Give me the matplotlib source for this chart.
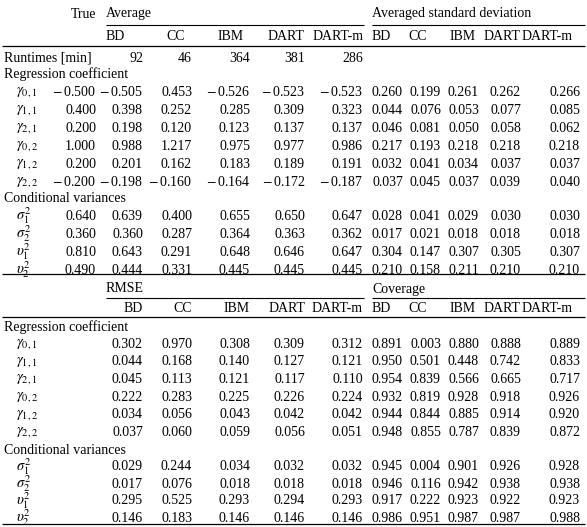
import matplotlib
matplotlib.use("Agg")
import matplotlib.pyplot as plt

plt.rcParams['font.family'] = ['Liberation Serif', 'DejaVu Serif']
plt.rcParams['mathtext.fontset'] = 'stix'

methods = ["BD", "CC", "IBM", "DART", "DART-m"]
runtimes = ["92", "46", "364", "381", "286"]
reg_labels = [r"$\gamma_{0,1}$", r"$\gamma_{1,1}$", r"$\gamma_{2,1}$", r"$\gamma_{0,2}$", r"$\gamma_{1,2}$", r"$\gamma_{2,2}$"]
var_labels = [r"$\sigma_1^2$", r"$\sigma_2^2$", r"$\upsilon_1^2$", r"$\upsilon_2^2$"]
true_reg = [-0.500, 0.400, 0.200, 1.000, 0.200, -0.200]
true_var = [0.640, 0.360, 0.810, 0.490]
avg_reg = [[-0.505, 0.453, -0.526, -0.523, -0.523],
           [0.398, 0.252, 0.285, 0.309, 0.323],
           [0.198, 0.120, 0.123, 0.137, 0.137],
           [0.988, 1.217, 0.975, 0.977, 0.986],
           [0.201, 0.162, 0.183, 0.189, 0.191],
           [-0.198, -0.160, -0.164, -0.172, -0.187]]
sd_reg = [[0.260, 0.199, 0.261, 0.262, 0.266],
          [0.044, 0.076, 0.053, 0.077, 0.085],
          [0.046, 0.081, 0.050, 0.058, 0.062],
          [0.217, 0.193, 0.218, 0.218, 0.218],
          [0.032, 0.041, 0.034, 0.037, 0.037],
          [0.037, 0.045, 0.037, 0.039, 0.040]]
avg_var = [[0.639, 0.400, 0.655, 0.650, 0.647],
           [0.360, 0.287, 0.364, 0.363, 0.362],
           [0.643, 0.291, 0.648, 0.646, 0.647],
           [0.444, 0.331, 0.445, 0.445, 0.445]]
sd_var = [[0.028, 0.041, 0.029, 0.030, 0.030],
          [0.017, 0.021, 0.018, 0.018, 0.018],
          [0.304, 0.147, 0.307, 0.305, 0.307],
          [0.210, 0.158, 0.211, 0.210, 0.210]]
rmse_reg = [[0.302, 0.970, 0.308, 0.309, 0.312],
            [0.044, 0.168, 0.140, 0.127, 0.121],
            [0.045, 0.113, 0.121, 0.117, 0.110],
            [0.222, 0.283, 0.225, 0.226, 0.224],
            [0.034, 0.056, 0.043, 0.042, 0.042],
            [0.037, 0.060, 0.059, 0.056, 0.051]]
cov_reg = [[0.891, 0.003, 0.880, 0.888, 0.889],
           [0.950, 0.501, 0.448, 0.742, 0.833],
           [0.954, 0.839, 0.566, 0.665, 0.717],
           [0.932, 0.819, 0.928, 0.918, 0.926],
           [0.944, 0.844, 0.885, 0.914, 0.920],
           [0.948, 0.855, 0.787, 0.839, 0.872]]
rmse_var = [[0.029, 0.244, 0.034, 0.032, 0.032],
            [0.017, 0.076, 0.018, 0.018, 0.018],
            [0.295, 0.525, 0.293, 0.294, 0.293],
            [0.146, 0.183, 0.146, 0.146, 0.146]]
cov_var = [[0.945, 0.004, 0.901, 0.926, 0.928],
           [0.946, 0.116, 0.942, 0.938, 0.938],
           [0.917, 0.222, 0.923, 0.922, 0.923],
           [0.986, 0.951, 0.987, 0.987, 0.988]]

W, H = 587, 527
fig = plt.figure(figsize=(W/100, H/100), dpi=100)
ax = fig.add_axes([0, 0, 1, 1])
ax.set_xlim(0, W); ax.set_ylim(H, 0); ax.axis('off')
FS = 10

def fmt(v):
    s = f"{abs(v):.3f}"
    return ("$-\\,$" + s) if v < 0 else s

def t(x, y, s, ha='left', fs=FS):
    ax.text(x, y, s, ha=ha, va='center', fontsize=fs)

def hline(y, x0=2, x1=585, lw=0.9):
    ax.plot([x0, x1], [y, y], color='black', lw=lw, solid_capstyle='butt')

xtrue = 96
xg1 = [143, 192, 250, 305, 363]
xg2 = [403, 441, 479, 521, 580]
hx2 = [372, 408, 450, 484, 522]

# ---------- Table 1 ----------
t(xtrue, 14, "True", 'right')
t(106, 14, "Average")
t(372, 14, "Averaged standard deviation")
hline(25, 106, 364, 0.8); hline(25, 372, 585, 0.8)
for m, x in zip(methods, [106, 166, 218, 268, 313]):
    t(x, 36, m)
for m, x in zip(methods, hx2):
    t(x, 36, m)
hline(46)
t(4, 58, "Runtimes [min]")
for r, x in zip(runtimes, xg1):
    t(x, 58, r, 'right')
t(4, 74, "Regression coefficient")
y = 92
for i, lab in enumerate(reg_labels):
    t(16, y, lab, fs=10.5)
    t(xtrue, y, fmt(true_reg[i]), 'right')
    for j in range(5):
        t(xg1[j], y, fmt(avg_reg[i][j]), 'right')
        t(xg2[j], y, fmt(sd_reg[i][j]), 'right')
    y += 18
t(4, 198, "Conditional variances")
y = 216
for i, lab in enumerate(var_labels):
    t(16, y, lab, fs=10.5)
    t(xtrue, y, fmt(true_var[i]), 'right')
    for j in range(5):
        t(xg1[j], y, fmt(avg_var[i][j]), 'right')
        t(xg2[j], y, fmt(sd_var[i][j]), 'right')
    y += 18
hline(274)

# ---------- Table 2 ----------
t(106, 289, "RMSE")
t(372, 289, "Coverage")
hline(298, 106, 364, 0.8); hline(298, 372, 585, 0.8)
for m, x in zip(methods, xg1):
    t(x, 308, m, 'right')
for m, x in zip(methods, hx2):
    t(x, 308, m)
hline(317)
t(4, 327, "Regression coefficient")
y = 344
for i, lab in enumerate(reg_labels):
    t(16, y, lab, fs=10.5)
    for j in range(5):
        t(xg1[j], y, fmt(rmse_reg[i][j]), 'right')
        t(xg2[j], y, fmt(cov_reg[i][j]), 'right')
    y += 17.7
t(4, 450, "Conditional variances")
y = 467
for i, lab in enumerate(var_labels):
    t(16, y, lab, fs=10.5)
    for j in range(5):
        t(xg1[j], y, fmt(rmse_var[i][j]), 'right')
        t(xg2[j], y, fmt(cov_var[i][j]), 'right')
    y += 17
hline(524)

fig.savefig("out.png", dpi=100)
